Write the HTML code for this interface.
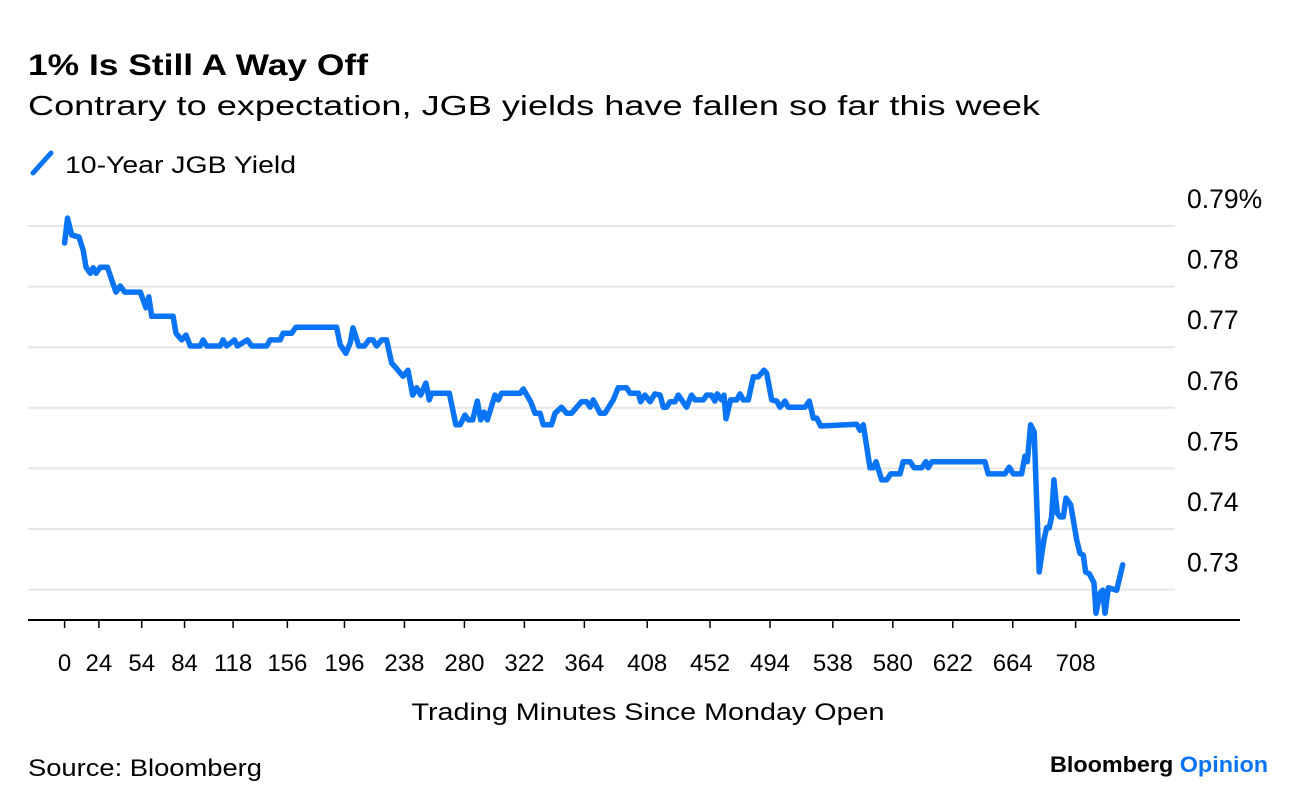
<!DOCTYPE html>
<html><head><meta charset="utf-8"><style>
html,body{margin:0;padding:0;background:#fff;}
svg{display:block;font-family:"Liberation Sans",sans-serif;}
</style></head><body>
<svg id="chart" width="1296" height="808" viewBox="0 0 1296 808" xmlns="http://www.w3.org/2000/svg">
<text x="28" y="75" font-size="30" font-weight="bold" fill="#000" textLength="340" lengthAdjust="spacingAndGlyphs">1% Is Still A Way Off</text>
<text x="28" y="115" font-size="28" fill="#000" textLength="1012" lengthAdjust="spacingAndGlyphs">Contrary to expectation, JGB yields have fallen so far this week</text>
<g>
<line x1="33" y1="173" x2="51" y2="153" stroke="#0a74f7" stroke-width="5" stroke-linecap="round"/>
<text x="65" y="173" font-size="24" fill="#000" textLength="231" lengthAdjust="spacingAndGlyphs">10-Year JGB Yield</text>
</g>
<g id="grid"></g>
<g id="yticks"></g>
<g id="xaxis"></g>
<polyline id="series" fill="none" stroke="#0a74f7" stroke-width="5.5" stroke-linejoin="round" stroke-linecap="round"/>
<text x="648" y="720" font-size="24" fill="#000" text-anchor="middle" textLength="473" lengthAdjust="spacingAndGlyphs">Trading Minutes Since Monday Open</text>
<text x="28" y="776" font-size="24" fill="#000" textLength="234" lengthAdjust="spacingAndGlyphs">Source: Bloomberg</text>
<text x="1268" y="772" font-size="22" font-weight="bold" text-anchor="end" textLength="218" lengthAdjust="spacingAndGlyphs"><tspan fill="#000">Bloomberg </tspan><tspan fill="#0a74f7">Opinion</tspan></text>
</svg>
<script>
const minutes = [0,2,5,10,13,15,18,20,22,25,30,33,36,39,42,53,57,59,61,76,78,82,85,88,95,97,99.5,109,111,113.5,119,121,128,131,141.5,144,151,153,159,162,190.5,193,197,200,202,204,206,210,213,216,218.5,222,225.5,229,233.5,237,240.5,243.8,246.6,249.4,253,255.4,257,269.4,274,277,280.4,282.7,285.8,289,291.4,293.7,296,301.4,303.7,306,319,321.2,326.4,329.4,333,335.2,341,343.4,348,351.6,355,358.6,362,365.6,368,370.2,375,378.4,384.2,387.7,393.6,396,401.8,403.4,406.4,410,413.4,417,419.3,421.6,424,427.5,429.8,435.6,439,441.5,447.3,449.6,453,455.4,457,460,461.8,463.2,466.4,470.7,473,475.3,478.8,482.3,485.8,489.8,491.7,495.2,498.7,501,504.5,506.8,518.5,521.5,524.3,526.7,529.5,554.7,557,559.3,564,566.3,568.2,572.2,575.7,578.5,585,587.3,592,595,600.2,603.2,604.8,607.2,644.5,646.8,658.5,661.5,664.4,670.2,672.5,674.2,676.5,679,682.5,685.8,687.7,689.5,691.2,692.8,695.2,697,699.4,701.3,704.6,708.8,711,713.4,715,717.6,720.9,722.3,725,727,728.6,731,736.8,741];
const yields = [0.7872,0.7913,0.7885,0.7882,0.7860,0.7832,0.7822,0.7831,0.7822,0.7832,0.7832,0.7811,0.7791,0.7801,0.7791,0.7791,0.7765,0.7783,0.7751,0.7751,0.7723,0.7712,0.7720,0.7702,0.7702,0.7712,0.7702,0.7702,0.7712,0.7702,0.7712,0.7702,0.7712,0.7702,0.7702,0.7712,0.7712,0.7723,0.7723,0.7733,0.7733,0.7704,0.7690,0.7707,0.7732,0.7717,0.7702,0.7702,0.7712,0.7712,0.7702,0.7712,0.7712,0.7674,0.7662,0.7652,0.7662,0.7621,0.7633,0.7621,0.7641,0.7613,0.7624,0.7624,0.7572,0.7572,0.7588,0.7580,0.7580,0.7611,0.7580,0.7593,0.7580,0.7621,0.7613,0.7624,0.7624,0.7631,0.7610,0.7591,0.7591,0.7572,0.7572,0.7591,0.7601,0.7591,0.7591,0.7601,0.7610,0.7610,0.7601,0.7613,0.7591,0.7591,0.7613,0.7633,0.7633,0.7624,0.7624,0.7610,0.7621,0.7610,0.7623,0.7621,0.7601,0.7601,0.7610,0.7610,0.7621,0.7601,0.7621,0.7613,0.7613,0.7621,0.7621,0.7611,0.7623,0.7613,0.7621,0.7582,0.7613,0.7613,0.7623,0.7613,0.7613,0.7651,0.7651,0.7662,0.7657,0.7613,0.7611,0.7601,0.7611,0.7601,0.7601,0.7611,0.7583,0.7583,0.7570,0.7573,0.7563,0.7572,0.7501,0.7501,0.7511,0.7481,0.7481,0.7491,0.7491,0.7511,0.7511,0.7501,0.7501,0.7511,0.7501,0.7511,0.7511,0.7491,0.7491,0.7502,0.7491,0.7491,0.7520,0.7511,0.7572,0.7560,0.7329,0.7382,0.7402,0.7402,0.7420,0.7481,0.7426,0.7420,0.7420,0.7451,0.7440,0.7382,0.7360,0.7357,0.7329,0.7326,0.7311,0.7261,0.7294,0.7299,0.7261,0.7303,0.7299,0.7341];
const yTickValues = [0.79,0.78,0.77,0.76,0.75,0.74,0.73];
const yTickLabels = ["0.79%","0.78","0.77","0.76","0.75","0.74","0.73"];
const xTickValues = [0,24,54,84,118,156,196,238,280,322,364,408,452,494,538,580,622,664,708];

const NS = "http://www.w3.org/2000/svg";
const xScale = m => 64.6 + m * (1011 / 708);
const yScale = v => 226 + (0.79 - v) * 6060;

const grid = document.getElementById('grid');
const yt = document.getElementById('yticks');
yTickValues.forEach((v, i) => {
  const y = yScale(v);
  const l = document.createElementNS(NS, 'line');
  
  
  l.setAttribute('x1', 28); l.setAttribute('x2', 1175);
  l.setAttribute('y1', y); l.setAttribute('y2', y);
  l.setAttribute('stroke', '#e6e6e6'); l.setAttribute('stroke-width', 2);
  grid.appendChild(l);
  const t = document.createElementNS(NS, 'text');
  
  
  t.setAttribute('x', 1187); t.setAttribute('y', y - 18);
  t.setAttribute('font-size', 26.5); t.setAttribute('fill', '#000');
  t.textContent = yTickLabels[i];
  yt.appendChild(t);
});

const xa = document.getElementById('xaxis');
const axis = document.createElementNS(NS, 'line');


axis.setAttribute('x1', 28); axis.setAttribute('x2', 1240);
axis.setAttribute('y1', 620); axis.setAttribute('y2', 620);
axis.setAttribute('stroke', '#000'); axis.setAttribute('stroke-width', 2);
xa.appendChild(axis);
xTickValues.forEach(m => {
  const x = xScale(m);
  const tk = document.createElementNS(NS, 'line');
  
  
  tk.setAttribute('x1', x); tk.setAttribute('x2', x);
  tk.setAttribute('y1', 620); tk.setAttribute('y2', 628);
  tk.setAttribute('stroke', '#000'); tk.setAttribute('stroke-width', 1.5);
  xa.appendChild(tk);
  const t = document.createElementNS(NS, 'text');
  
  
  t.setAttribute('x', x); t.setAttribute('y', 671);
  t.setAttribute('font-size', 24); t.setAttribute('text-anchor', 'middle');
  t.setAttribute('fill', '#000');
  t.textContent = String(m);
  xa.appendChild(t);
});

document.getElementById('series').setAttribute('points',
  minutes.map((m, i) => xScale(m).toFixed(1) + ',' + yScale(yields[i]).toFixed(1)).join(' '));
</script>
</body></html>
